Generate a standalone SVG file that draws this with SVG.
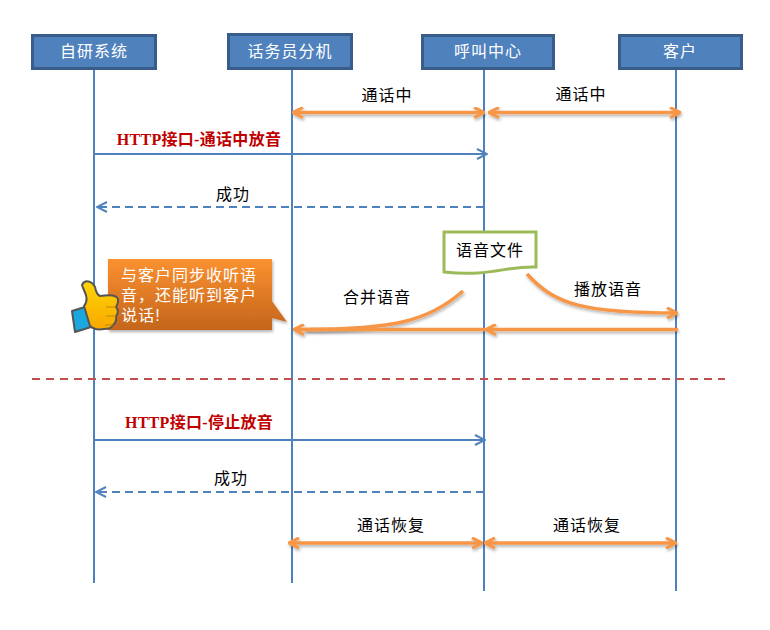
<svg xmlns="http://www.w3.org/2000/svg" width="770" height="630" viewBox="0 0 770 630">
<style>
text{font-family:"Liberation Sans","Noto Sans CJK SC",sans-serif;font-size:16px;letter-spacing:1px;fill:#000;text-anchor:middle}
.hd{fill:#fff}
.red{font-family:"Liberation Serif","Noto Sans CJK SC",serif;font-weight:bold;fill:#c00000;font-size:16px;letter-spacing:.3px}
.box{fill:#4f81bd;stroke:#385d8a;stroke-width:3}
.life{stroke:#4f81bd;stroke-width:2;fill:none}
.msg{stroke:#4f81bd;stroke-width:2;fill:none}
.dash{stroke-dasharray:8 5}
.or{stroke:#f79646;stroke-width:3.500;fill:none;filter:url(#sh)}
</style>
<defs>
<filter id="sh" filterUnits="userSpaceOnUse" x="0" y="0" width="770" height="630"><feDropShadow dx="1" dy="2" stdDeviation="1.500" flood-color="#000" flood-opacity="0.3"/></filter>
<linearGradient id="cg" x1="0" y1="0" x2="0" y2="1"><stop offset="0" stop-color="#fb9130"/><stop offset="1" stop-color="#c4651c"/></linearGradient>
<linearGradient id="tg" x1="0" y1="0" x2="0" y2="1"><stop offset="0" stop-color="#ffd500"/><stop offset="1" stop-color="#f7a800"/></linearGradient>
<marker id="ob" viewBox="0 0 12 12" refX="11" refY="6" markerWidth="12" markerHeight="12" markerUnits="userSpaceOnUse" orient="auto-start-reverse"><path d="M1 .8 11 6 1 11.200" fill="none" stroke="#f79646" stroke-width="3"/></marker>
<marker id="bl" viewBox="0 0 12 12" refX="11" refY="6" markerWidth="12" markerHeight="12" markerUnits="userSpaceOnUse" orient="auto"><path d="M1 1 11 6 1 11" fill="none" stroke="#4f81bd" stroke-width="2"/></marker>
</defs>
<g id="connectors">
<path class="life" d="M94 70V583M292 70V583M484 70V591M676 70V591"/>
<path class="msg" d="M94 154H487" marker-end="url(#bl)"/>
<path class="msg dash" d="M484 207H97" marker-end="url(#bl)"/>
<path class="msg" d="M94 440H485" marker-end="url(#bl)"/>
<path class="msg dash" d="M484 492H96" marker-end="url(#bl)"/>
<path d="M32 379H725" fill="none" stroke="#c0504d" stroke-width="2" stroke-dasharray="8 6"/>
<path class="or" d="M293 112.500H484" marker-start="url(#ob)" marker-end="url(#ob)"/>
<path class="or" d="M489 112.500H680" marker-start="url(#ob)" marker-end="url(#ob)"/>
<path class="or" d="M289 543H482" marker-start="url(#ob)" marker-end="url(#ob)"/>
<path class="or" d="M485 543H676" marker-start="url(#ob)" marker-end="url(#ob)"/>
<path class="or" d="M463 291C428 322 392 329 305 329.500"/>
<path class="or" d="M485 329.500H294" marker-end="url(#ob)"/>
<path class="or" d="M678 329.500H486" marker-end="url(#ob)"/>
<path class="or" d="M527 274C555 305 585 313 677 313" marker-end="url(#ob)"/>
</g>
<g id="n1"><rect class="box" x="32.500" y="35.500" width="123" height="33"/><text class="hd" x="94" y="57">自研系统</text></g>
<g id="n2"><rect class="box" x="228.500" y="34.500" width="123" height="34"/><text class="hd" x="290" y="57">话务员分机</text></g>
<g id="n3"><rect class="box" x="422.500" y="35.500" width="131" height="33"/><text class="hd" x="488" y="57">呼叫中心</text></g>
<g id="n4"><rect class="box" x="619.500" y="35.500" width="122" height="33"/><text class="hd" x="680" y="57">客户</text></g>
<g id="labels">
<text x="387" y="101">通话中</text>
<text x="581" y="100">通话中</text>
<text class="red" x="199" y="145">HTTP接口-通话中放音</text>
<text x="233" y="200">成功</text>
<text x="377" y="303">合并语音</text>
<text x="608" y="295">播放语音</text>
<text class="red" x="199" y="428">HTTP接口-停止放音</text>
<text x="231" y="484">成功</text>
<text x="391" y="531">通话恢复</text>
<text x="587" y="531">通话恢复</text>
</g>
<g id="doc">
<path d="M444 232H536V267C505 266 490 277 444 272Z" fill="#fff" stroke="#9bbb59" stroke-width="3"/>
<text x="490" y="256">语音文件</text>
</g>
<g id="callout">
<path d="M108 259H272V301L287 322 272 318V330H108Z" fill="url(#cg)" filter="url(#sh)"/>
<text class="hd" x="189" y="281">与客户同步收听语</text>
<text class="hd" x="189" y="301">音，还能听到客户</text>
<text class="hd" x="141" y="321">说话!</text>
</g>
<g id="thumb">
<path d="M72 311 85 307 91 327 75 332Z" fill="#1ba7e0" stroke="#555" stroke-width="2" stroke-linejoin="round"/>
<path d="M84 306C90 298 84 292 82 285 85 279 92 281 95 287 96 292 97 295 100 296 106 295 116 294 118 299 119 303 117 305 116 307 119 310 118 314 116 316 117 320 115 324 113 325 112 328 108 329 104 329 98 330 93 329 90 326Z" fill="url(#tg)" stroke="#555" stroke-width="2" stroke-linejoin="round"/>
<path d="M116 307H106M116 316H106M113 325H105" fill="none" stroke="#b98a10" stroke-width="1"/>
</g>
</svg>
